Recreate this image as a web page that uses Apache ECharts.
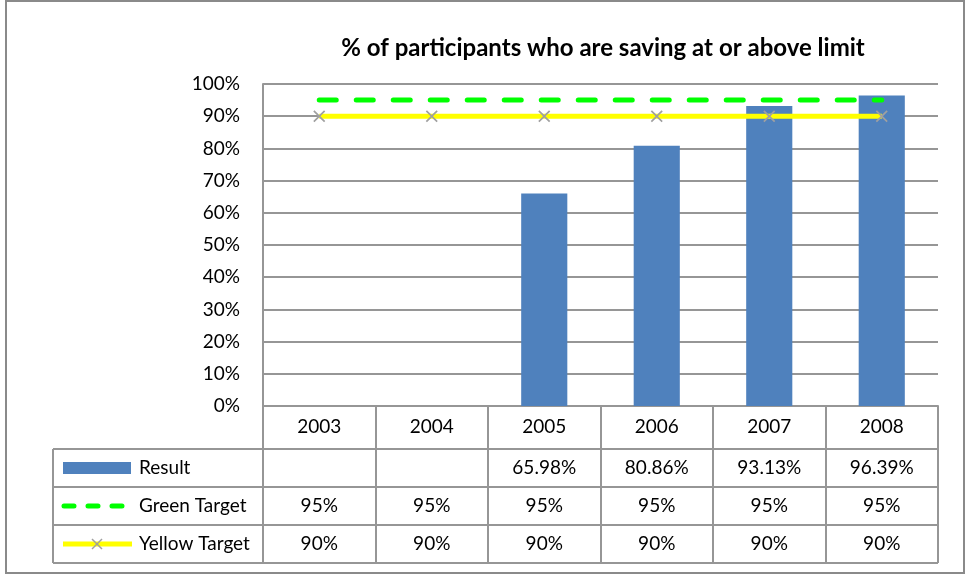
<!DOCTYPE html>
<html><head><meta charset="utf-8">
<script src="https://cdn.jsdelivr.net/npm/echarts@6/dist/echarts.min.js"></script>
<style>html,body{margin:0;padding:0;background:#fff}#c{width:970px;height:576px}</style>
</head><body><div id="c"></div>
<script>
const categories = ['2003', '2004', '2005', '2006', '2007', '2008'];
const resultValues = [null, null, 65.98, 80.86, 93.13, 96.39];
const greenTarget = [95, 95, 95, 95, 95, 95];
const yellowTarget = [90, 90, 90, 90, 90, 90];
const seriesNames = ['Result', 'Green Target', 'Yellow Target'];
const titleText = '% of participants who are saving at or above limit';

const FONT = 'Lato';
const FS = 19;
const GRAY = '#969696';
const GRID = {left: 263, right: 32, top: 84, bottom: 170};
const TABLE_LEFT = 53, ROW_TOP = 449, ROW_H = 38;
const XPATH = 'path://M0,1L1,0L5,4L9,0L10,1L6,5L10,9L9,10L5,6L1,10L0,9L4,5Z';

const chart = echarts.init(document.getElementById('c'), null, {renderer: 'canvas'});
chart.setOption({
  animation: false,
  title: {
    text: titleText, left: 598, top: 31, textAlign: 'center',
    textStyle: {fontFamily: FONT, fontWeight: 'bold', fontSize: 24, color: '#000'}
  },
  grid: GRID,
  xAxis: {
    type: 'category', data: categories,
    axisLine: {show: true, lineStyle: {color: GRAY, width: 2}},
    axisTick: {show: true, length: 157, lineStyle: {color: GRAY, width: 2}},
    axisLabel: {margin: 11, fontFamily: FONT, fontSize: FS, color: '#000'},
    splitLine: {show: false}
  },
  yAxis: {
    type: 'value', min: 0, max: 100, interval: 10,
    axisLine: {show: true, lineStyle: {color: GRAY, width: 2}},
    axisTick: {show: false},
    axisLabel: {formatter: '{value}%', margin: 23, fontFamily: FONT, fontSize: FS, color: '#000'},
    splitLine: {show: true, lineStyle: {color: GRAY, width: 2}}
  },
  series: [
    {name: seriesNames[0], type: 'bar', data: resultValues, barWidth: '41%',
     itemStyle: {color: '#4f81bd'}},
    {name: seriesNames[1], type: 'line', data: greenTarget, symbol: 'none',
     lineStyle: {color: '#00ff00', width: 5, type: [17, 20], cap: 'round'}},
    {name: seriesNames[2], type: 'line', data: yellowTarget, symbol: XPATH, symbolSize: 12,
     showSymbol: true, itemStyle: {color: '#a0a0a0'},
     lineStyle: {color: '#ffff00', width: 5}}
  ]
});

// Build the data table beneath the axis from the same arrays
const right = 970 - GRID.right;
const centers = categories.map((c, i) => chart.convertToPixel({xAxisIndex: 0}, i));
const g = [];
g.push({type: 'rect', shape: {x: 6, y: 1, width: 958, height: 572},
        style: {fill: 'none', stroke: '#8a8a8a', lineWidth: 2}, silent: true});
for (let r = 0; r <= 3; r++) {
  const y = ROW_TOP + r * ROW_H;
  g.push({type: 'line', shape: {x1: TABLE_LEFT, y1: y, x2: right, y2: y},
          style: {stroke: GRAY, lineWidth: 2}});
}
g.push({type: 'line', shape: {x1: TABLE_LEFT, y1: ROW_TOP, x2: TABLE_LEFT, y2: ROW_TOP + 3 * ROW_H},
        style: {stroke: GRAY, lineWidth: 2}});
const rows = [
  resultValues.map(v => v == null ? '' : v.toFixed(2) + '%'),
  greenTarget.map(v => v + '%'),
  yellowTarget.map(v => v + '%')
];
rows.forEach((vals, r) => {
  const cy = ROW_TOP + r * ROW_H + ROW_H / 2;
  vals.forEach((t, i) => {
    g.push({type: 'text', style: {text: t, x: centers[i], y: cy, align: 'center', verticalAlign: 'middle',
            fontFamily: FONT, fontSize: FS, fill: '#000'}});
  });
  g.push({type: 'text', style: {text: seriesNames[r], x: 139, y: cy, align: 'left', verticalAlign: 'middle',
          fontFamily: FONT, fontSize: FS, fill: '#000'}});
});
// legend keys
const k0 = ROW_TOP + ROW_H / 2, k1 = k0 + ROW_H, k2 = k1 + ROW_H;
g.push({type: 'rect', shape: {x: 63, y: k0 - 6, width: 68, height: 12}, style: {fill: '#4f81bd'}});
g.push({type: 'line', shape: {x1: 64, y1: k1, x2: 124, y2: k1},
        style: {stroke: '#00ff00', lineWidth: 5, lineDash: [10, 14], lineCap: 'round'}});
g.push({type: 'line', shape: {x1: 63, y1: k2, x2: 132, y2: k2},
        style: {stroke: '#ffff00', lineWidth: 5}});
g.push({type: 'line', shape: {x1: 92, y1: k2 - 5, x2: 102, y2: k2 + 5},
        style: {stroke: '#a0a0a0', lineWidth: 1.5}});
g.push({type: 'line', shape: {x1: 102, y1: k2 - 5, x2: 92, y2: k2 + 5},
        style: {stroke: '#a0a0a0', lineWidth: 1.5}});
chart.setOption({graphic: {elements: g}});
</script></body></html>
